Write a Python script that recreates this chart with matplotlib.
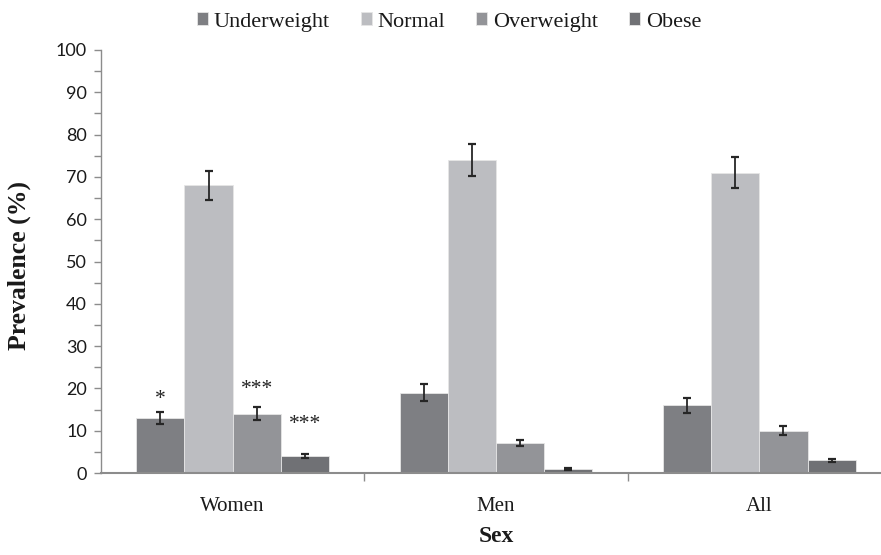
import matplotlib
matplotlib.use("Agg")
import matplotlib.pyplot as plt
import numpy as np
from matplotlib.ticker import MultipleLocator, FixedLocator, NullFormatter
from matplotlib.font_manager import FontProperties

categories = ["Women", "Men", "All"]
series = ["Underweight", "Normal", "Overweight", "Obese"]
underweight = [13, 19, 16]
normal = [68, 74, 71]
overweight = [14, 7, 10]
obese = [4, 1, 3]
underweight_err = [1.4, 2.0, 1.7]
normal_err = [3.5, 3.8, 3.6]
overweight_err = [1.5, 0.7, 1.1]
obese_err = [0.4, 0.2, 0.3]
colors = ["#7e7f83", "#bcbdc1", "#939498", "#707175"]
# significance marks
sig_cat = [0, 0, 0]
sig_series = [0, 2, 3]
sig_labels = ["*", "***", "***"]
sig_y = [16.2, 18.7, 10.4]

values = [underweight, normal, overweight, obese]
errors = [underweight_err, normal_err, overweight_err, obese_err]

serif = "Liberation Serif"
fig = plt.figure(figsize=(8.81, 5.55), dpi=100)
ax = fig.add_axes([101/881, 1 - 473/555, 790/881, 423/555])

x = np.arange(len(categories))
w = 0.183
handles = []
for i, (vals, errs, c) in enumerate(zip(values, errors, colors)):
    off = (i - 1.5) * w
    b = ax.bar(x + off, vals, w, color=c, edgecolor="#e6e6e6", linewidth=0.6, label=series[i], zorder=2)
    ax.errorbar(x + off, vals, yerr=errs, fmt="none", ecolor="#262626", elinewidth=1.3,
                capsize=3, capthick=1.6, zorder=3)
    handles.append(b)

for ci, si, lab, yy in zip(sig_cat, sig_series, sig_labels, sig_y):
    off = (si - 1.5) * w
    ax.text(x[ci] + off, yy, lab, ha="center", va="baseline",
            fontproperties=FontProperties(family=serif, size=15.5), color="#222222")

ax.set_xlim(-0.5, 2.5)
ax.set_ylim(0, 100)

for s in ["top", "right"]:
    ax.spines[s].set_visible(False)
for s in ["left", "bottom"]:
    ax.spines[s].set_color("#8c8c8c")
ax.spines["bottom"].set_linewidth(1.5)
ax.spines["left"].set_linewidth(1.0)

ax.yaxis.set_major_locator(MultipleLocator(10))
ax.yaxis.set_minor_locator(MultipleLocator(5))
ax.tick_params(axis="y", which="both", direction="out", length=5, width=1, color="#8c8c8c",
               labelsize=13, pad=5)
for lbl in ax.get_yticklabels():
    lbl.set_family("Lato")
    lbl.set_color("#1a1a1a")

ax.xaxis.set_major_locator(FixedLocator([0.5, 1.5]))
ax.xaxis.set_major_formatter(NullFormatter())
ax.xaxis.set_minor_locator(FixedLocator(x))
ax.set_xticklabels(categories, minor=True)
ax.tick_params(axis="x", which="major", direction="out", length=6, width=1, color="#8c8c8c")
ax.tick_params(axis="x", which="minor", length=0, labelsize=15, pad=17)
for lbl in ax.get_xticklabels(minor=True):
    lbl.set_family(serif)
    lbl.set_color("#1a1a1a")

fig.text(19/881, 1 - 266/555, "Prevalence (%)", rotation=90, ha="center", va="center",
         fontproperties=FontProperties(family=serif, size=18.5, weight="bold"), color="#1a1a1a")
fig.text(496/881, 1 - 537/555, "Sex", ha="center", va="center",
         fontproperties=FontProperties(family=serif, size=17, weight="bold"), color="#1a1a1a")

leg = fig.legend(handles=handles, labels=series, loc="center", bbox_to_anchor=(449/881, 1 - 22/555),
                 ncol=4, frameon=False, prop=FontProperties(family=serif, size=16),
                 handlelength=0.5, handleheight=0.5, handletextpad=0.25, columnspacing=1.4)
for t in leg.get_texts():
    t.set_color("#1a1a1a")

fig.savefig("out.png", dpi=100)
